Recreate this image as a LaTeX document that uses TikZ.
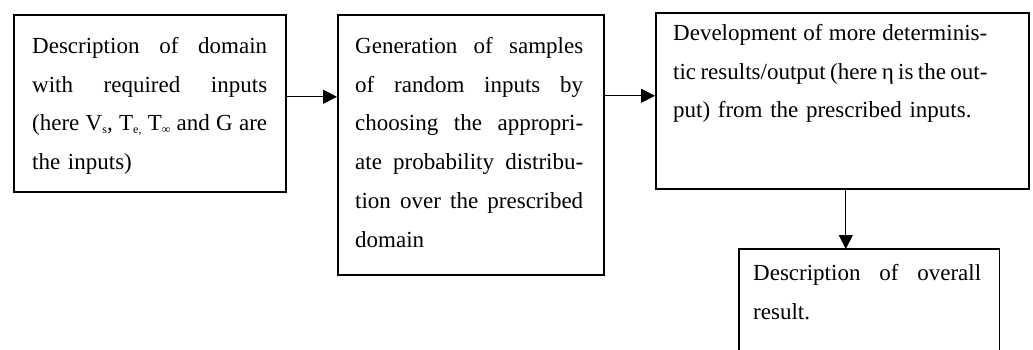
\documentclass[tikz,border=0pt]{standalone}
\usepackage{fontspec}
\setmainfont{Liberation Serif}
\usetikzlibrary{arrows.meta}
\newcommand{\jl}[2]{{\spaceskip=0.25em plus 1fil minus 0.06em\relax\makebox[#1][s]{#2}}}
\newcommand{\fl}{\rule{0pt}{17pt}}
\newcommand{\sbs}[1]{\raisebox{-2.5pt}{\fontsize{12}{12}\selectfont #1}}
\newcommand{\boxfont}{\fontsize{23}{38.8}\selectfont}
\begin{document}
\begin{tikzpicture}[x=1pt,y=-1pt,
  box/.style={draw,line width=1.6pt,inner sep=0pt,anchor=north west},
  openbox/.style={inner sep=0pt,anchor=north west},
  boxline/.style={line width=1.6pt},
  txt/.style={anchor=north west,inner sep=0pt,align=left,font=\boxfont},
  arr/.style={line width=1pt,-{Triangle[length=14pt,width=14pt]}}]
\useasboundingbox (0,0) rectangle (1033,349);
% boxes
\node[box,minimum width=272pt,minimum height=177pt] (b1) at (13,14) {};
\node[box,minimum width=266pt,minimum height=260pt] (b2) at (337,14) {};
\node[box,minimum width=373pt,minimum height=176pt] (b3) at (655,12) {};
\node[openbox,minimum width=260pt,minimum height=106pt] (b4) at (739,249) {};
\draw[boxline] (b4.south west) -- (b4.north west) -- (b4.north east) -- (b4.south east);
% texts
\node[txt,text width=235pt] (t1) at (32,36) {%
\jl{235pt}{\fl Description of domain}\\
\jl{235pt}{with required inputs}\\
\jl{235pt}{(here V\sbs{s}, T\sbs{e,} T\sbs{∞} and G are}\\
the inputs)};
\node[txt,text width=228pt] (t2) at (355,36) {%
\jl{228pt}{\fl Generation of samples}\\
\jl{228pt}{of random inputs by}\\
\jl{228pt}{choosing the appropri-}\\
\jl{228pt}{ate probability distribu-}\\
\jl{228pt}{tion over the prescribed}\\
domain};
\node[txt,text width=314pt] (t3) at (673,23) {%
\jl{314pt}{\fl Development of more determinis-}\\
\jl{314pt}{tic results/output (here η is the out-}\\
put) from the prescribed inputs.};
\node[txt,text width=228pt] (t4) at (753,263) {%
\jl{228pt}{\fl Description of overall}\\
result.};
% connectors
\coordinate (a1) at ([yshift=6.5pt]b1.east);
\draw[arr] (a1) -- (a1 -| b2.west);
\coordinate (a2) at ([yshift=5pt]b3.west);
\draw[arr] (a2 -| b2.east) -- (a2);
\coordinate (a3) at ([xshift=3.5pt]b3.south);
\draw[arr] (a3) -- (a3 |- b4.north);
\end{tikzpicture}
\end{document}
